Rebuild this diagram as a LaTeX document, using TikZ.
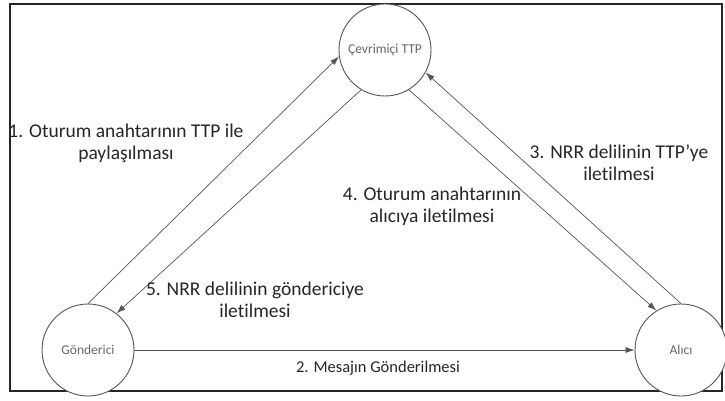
\documentclass[tikz,border=0pt]{standalone}
\usepackage{fontspec}
\setmainfont[Ligatures=NoCommon]{Carlito}
\usetikzlibrary{arrows.meta}
\definecolor{ink}{HTML}{262626}
\definecolor{edge}{HTML}{555555}
\begin{document}
\begin{tikzpicture}[x=1pt,y=-1pt,
  party/.style={circle,draw=edge,line width=0.9pt,minimum size=92pt,inner sep=0pt,
                fill=white,text=ink!70,font=\fontsize{13.5}{15}\selectfont},
  msg/.style={draw=edge,line width=0.7pt,-{Latex[length=9pt,width=6pt]}},
  lbl/.style={align=center,text=ink,font=\fontsize{19.5}{22}\selectfont,inner sep=0pt}]
  \useasboundingbox (0,0) rectangle (725,401);
  % outer frame
  \draw[ink,line width=1.6pt] (10,4) rectangle (722,391);

  % parties
  \node[party] (ttp) at (385,50) {Çevrimiçi TTP};
  \node[party] (gon) at (88,350) {Gönderici};
  \node[party] (ali) at (681,350) {Alıcı};

  % message flows
  \draw[msg] (gon.90) -- (ttp.188);
  \draw[msg] (ttp.239) -- (gon.52);
  \draw[msg] (ali.90) -- (ttp.331);
  \draw[msg] (ttp.301) -- (ali.122);
  \draw[msg] (gon.east) -- (ali.west);

  % flow labels
  \node[lbl] (l1) at (126,143) {1. Oturum anahtarının TTP ile\\paylaşılması};
  \node[lbl] (l3) at (619,163) {3. NRR delilinin TTP’ye\\iletilmesi};
  \node[lbl] (l4) at (432,206) {4. Oturum anahtarının\\alıcıya iletilmesi};
  \node[lbl] (l5) at (255,300) {5. NRR delilinin göndericiye\\iletilmesi};
  \node[lbl,font=\fontsize{16.5}{20}\selectfont] (l2) at (378,368) {2. Mesajın Gönderilmesi};
\end{tikzpicture}
\end{document}
